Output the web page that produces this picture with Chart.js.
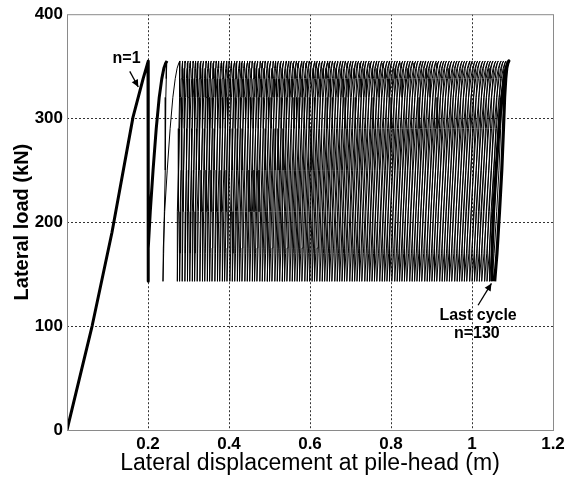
<!DOCTYPE html>
<html><head><meta charset="utf-8">
<script src="https://cdn.jsdelivr.net/npm/chart.js@4.4.1/dist/chart.umd.min.js"></script>
<style>html,body{margin:0;padding:0;background:#fff}#wrap{width:572px;height:477px}</style>
</head><body><div id="wrap"><canvas id="c" width="572" height="477"></canvas></div>
<script>
// ---- data ----
const xTickValues = [0, 0.2, 0.4, 0.6, 0.8, 1.0, 1.2];
const xTickLabels = ['', '0.2', '0.4', '0.6', '0.8', '1', '1.2'];
const yTickValues = [0, 100, 200, 300, 400];
const yTickLabels = ['0', '100', '200', '300', '400'];

// monotonic first loading (cycle n=1)
const initialLoadX = [0, 0.062, 0.111, 0.163, 0.188, 0.197, 0.2];
const initialLoadY = [0, 100, 190, 301, 338, 350, 354];

// displacement at peak load for each cycle n=1..130
const cyclePeakX = [
0.200, 0.247, 0.279, 0.286, 0.292, 0.299, 0.305, 0.312, 0.318, 0.324,
0.331, 0.337, 0.344, 0.350, 0.356, 0.363, 0.369, 0.375, 0.382, 0.388,
0.395, 0.401, 0.407, 0.414, 0.420, 0.427, 0.433, 0.439, 0.446, 0.452,
0.458, 0.465, 0.471, 0.478, 0.484, 0.490, 0.497, 0.503, 0.510, 0.516,
0.522, 0.529, 0.535, 0.542, 0.548, 0.554, 0.561, 0.567, 0.573, 0.580,
0.586, 0.593, 0.599, 0.605, 0.612, 0.618, 0.624, 0.631, 0.637, 0.644,
0.650, 0.656, 0.663, 0.669, 0.676, 0.682, 0.688, 0.695, 0.701, 0.707,
0.714, 0.720, 0.727, 0.733, 0.739, 0.746, 0.752, 0.759, 0.765, 0.771,
0.778, 0.784, 0.791, 0.797, 0.803, 0.810, 0.816, 0.822, 0.829, 0.835,
0.842, 0.848, 0.854, 0.861, 0.867, 0.874, 0.880, 0.886, 0.893, 0.899,
0.905, 0.912, 0.918, 0.925, 0.931, 0.937, 0.944, 0.950, 0.957, 0.963,
0.969, 0.976, 0.982, 0.988, 0.995, 1.001, 1.008, 1.014, 1.020, 1.027,
1.033, 1.040, 1.046, 1.052, 1.059, 1.065, 1.072, 1.078, 1.084, 1.091];

// displacement at minimum load after each cycle's unloading
const cycleBottomX = [
0.201, 0.237, 0.272, 0.278, 0.284, 0.291, 0.297, 0.303, 0.309, 0.315,
0.321, 0.328, 0.334, 0.340, 0.346, 0.352, 0.358, 0.365, 0.371, 0.377,
0.383, 0.389, 0.395, 0.402, 0.408, 0.414, 0.420, 0.426, 0.432, 0.439,
0.445, 0.451, 0.457, 0.463, 0.469, 0.476, 0.482, 0.488, 0.494, 0.500,
0.506, 0.513, 0.519, 0.525, 0.531, 0.537, 0.543, 0.550, 0.556, 0.562,
0.568, 0.574, 0.580, 0.587, 0.593, 0.599, 0.605, 0.611, 0.617, 0.624,
0.630, 0.636, 0.642, 0.648, 0.654, 0.661, 0.667, 0.673, 0.679, 0.685,
0.691, 0.698, 0.704, 0.710, 0.716, 0.722, 0.728, 0.735, 0.741, 0.747,
0.753, 0.759, 0.765, 0.772, 0.778, 0.784, 0.790, 0.796, 0.802, 0.809,
0.815, 0.821, 0.827, 0.833, 0.839, 0.846, 0.852, 0.858, 0.864, 0.870,
0.876, 0.883, 0.889, 0.895, 0.901, 0.907, 0.913, 0.920, 0.926, 0.932,
0.938, 0.944, 0.950, 0.957, 0.963, 0.969, 0.975, 0.981, 0.987, 0.994,
1.000, 1.006, 1.012, 1.018, 1.024, 1.031, 1.037, 1.043, 1.049, 1.056];

// loop branch shapes (load levels, kN, and fraction of the branch's displacement travel)
const loadingLoads   = [143, 175, 210, 250, 290, 320, 338, 348, 353, 355];
const loadingShape   = [0, 0.02, 0.10, 0.25, 0.42, 0.58, 0.72, 0.83, 0.93, 1];
const unloadingLoads = [355, 353, 348, 338, 320, 290, 250, 210, 170, 143];
const unloadingShape = [0, 0.07, 0.15, 0.22, 0.30, 0.38, 0.50, 0.66, 0.84, 1];

// ---- build point lists ----
function loadingBranch(b, p) { return loadingLoads.map((L, i) => ({x: b + (p - b) * loadingShape[i], y: L})); }
function unloadingBranch(p, b) { return unloadingLoads.map((L, i) => ({x: p - (p - b) * unloadingShape[i], y: L})); }

const N = cyclePeakX.length;
const firstCycle = initialLoadX.map((x, i) => ({x, y: initialLoadY[i]}))
  .concat(unloadingBranch(cyclePeakX[0], cycleBottomX[0]))
  .concat(loadingBranch(cycleBottomX[0], cyclePeakX[1]));
let middle = unloadingBranch(cyclePeakX[1], cycleBottomX[1]);
for (let k = 2; k < N - 1; k++) {
  middle = middle.concat(loadingBranch(cycleBottomX[k - 1], cyclePeakX[k]))
                 .concat(unloadingBranch(cyclePeakX[k], cycleBottomX[k]));
}
const lastCycle = loadingBranch(cycleBottomX[N - 2], cyclePeakX[N - 1])
  .concat(unloadingBranch(cyclePeakX[N - 1], cycleBottomX[N - 1]));

const FONT = "'Liberation Sans', Arial, Helvetica, sans-serif";

const framePlugin = {
  id: 'frame',
  afterDraw(chart) {
    const {ctx, chartArea: a} = chart;
    ctx.save();
    ctx.strokeStyle = '#8a8a8a';
    ctx.lineWidth = 1;
    ctx.strokeRect(a.left + 0.5, a.top + 0.5, a.right - a.left, a.bottom - a.top);
    ctx.restore();
  }
};

function arrow(ctx, x1, y1, x2, y2) {
  ctx.beginPath(); ctx.moveTo(x1, y1); ctx.lineTo(x2, y2); ctx.stroke();
  const ang = Math.atan2(y2 - y1, x2 - x1), L = 8, W = 0.45;
  ctx.beginPath();
  ctx.moveTo(x2, y2);
  ctx.lineTo(x2 - L * Math.cos(ang - W), y2 - L * Math.sin(ang - W));
  ctx.lineTo(x2 - L * Math.cos(ang + W), y2 - L * Math.sin(ang + W));
  ctx.closePath(); ctx.fill();
}

const notePlugin = {
  id: 'notes',
  afterDraw(chart) {
    const {ctx} = chart, sx = chart.scales.x, sy = chart.scales.y;
    const X = v => sx.getPixelForValue(v), Y = v => sy.getPixelForValue(v);
    ctx.save();
    ctx.fillStyle = '#000'; ctx.strokeStyle = '#000'; ctx.lineWidth = 1.3;
    ctx.font = 'bold 16px ' + FONT;
    ctx.textAlign = 'center'; ctx.textBaseline = 'middle';
    ctx.fillText('n=1', X(0.147), Y(357));
    arrow(ctx, X(0.155), Y(345), X(0.176), Y(330));
    ctx.fillText('Last cycle', X(1.015), Y(110));
    ctx.fillText('n=130', X(1.012), Y(93));
    arrow(ctx, X(1.015), Y(120), X(1.048), Y(141));
    ctx.restore();
  }
};

new Chart(document.getElementById('c'), {
  type: 'scatter',
  data: {
    datasets: [
      {data: middle, showLine: true, borderColor: '#000', borderWidth: 1, pointRadius: 0},
      {data: firstCycle, showLine: true, borderColor: '#000', borderWidth: 3, pointRadius: 0},
      {data: lastCycle, showLine: true, borderColor: '#000', borderWidth: 3.2, pointRadius: 0}
    ]
  },
  options: {
    responsive: false, animation: false, devicePixelRatio: 1,
    layout: {padding: {top: 14, right: 19, bottom: 0, left: 0}},
    plugins: {legend: {display: false}, tooltip: {enabled: false}},
    elements: {line: {tension: 0, borderJoinStyle: 'round'}},
    scales: {
      x: {
        type: 'linear', min: 0, max: 1.2, z: 1,
        afterBuildTicks: s => { s.ticks = xTickValues.map(v => ({value: v})); },
        afterFit: s => { s.height = 47; },
        ticks: {callback: (v, i) => xTickLabels[i], font: {family: FONT, size: 17, weight: 'bold'}, color: '#000', padding: 4, maxRotation: 0, autoSkip: false},
        grid: {color: c => (c.index === 0 || c.index === xTickValues.length - 1) ? 'rgba(0,0,0,0)' : '#333', lineWidth: 1, drawTicks: false},
        border: {display: false, dash: [2, 2]},
        title: {display: true, text: 'Lateral displacement at pile-head (m)', font: {family: FONT, size: 23}, color: '#000', padding: {top: 0, bottom: 0}}
      },
      y: {
        type: 'linear', min: 0, max: 400, z: 1,
        afterBuildTicks: s => { s.ticks = yTickValues.map(v => ({value: v})); },
        afterFit: s => { s.width = 67; },
        ticks: {callback: (v, i) => yTickLabels[i], font: {family: FONT, size: 17, weight: 'bold'}, color: '#000', padding: 4},
        grid: {color: c => (c.index === 0 || c.index === yTickValues.length - 1) ? 'rgba(0,0,0,0)' : '#333', lineWidth: 1, drawTicks: false},
        border: {display: false, dash: [2, 2]},
        title: {display: true, text: 'Lateral load (kN)', font: {family: FONT, size: 20, weight: 'bold'}, color: '#000', padding: {top: 10, bottom: 0}}
      }
    }
  },
  plugins: [framePlugin, notePlugin]
});
</script></body></html>
